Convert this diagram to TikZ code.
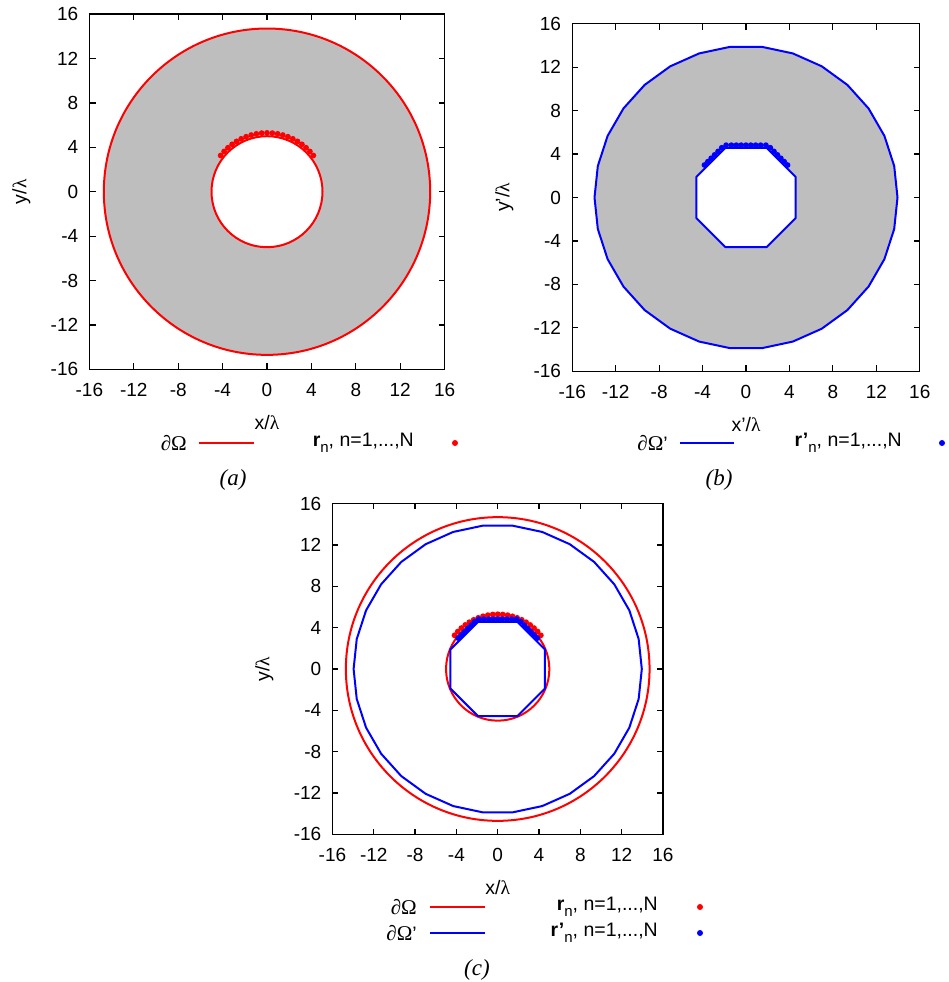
\documentclass[tikz,border=0pt]{standalone}
\usepackage{fontspec}
\setmainfont{Liberation Sans}
\newfontfamily\serifit{Liberation Serif}
\usetikzlibrary{positioning}
\definecolor{plotgray}{RGB}{190,190,190}
\definecolor{plotred}{RGB}{255,0,0}
\definecolor{plotblue}{RGB}{0,0,255}
\newcommand\lam{{\serifit λ}}
\newcommand\bnd{{\serifit\fontsize{21}{21}\selectfont ∂Ω}}
\newcommand\subn{\raisebox{-5.5pt}{\fontsize{15}{15}\selectfont n}}
% frame, ticks and tick labels of one panel (data units)
\newcommand\axesbox[3]{%
  \draw[frame] (-16,-16) rectangle (16,16);
  \foreach \v in {-12,-8,...,12} {
    \draw[frame] (\v,-16) -- ++(0,0.55) (\v,16) -- ++(0,-0.55)
                 (-16,\v) -- ++(0.55,0) (16,\v) -- ++(-0.55,0);
  }
  \foreach \v [count=\i] in {-16,-12,...,16} {
    \node[ticklab, anchor=east, xshift=-11pt] (#3y\i) at (-16,\v) {\v};
    \node[ticklab, yshift=-21pt] (#3x\i) at (\v,-16) {\v};
  }
  \node[axlab] (#3xl) at ([yshift=-53pt]0,-16) {#1};
  \node[axlab, rotate=90] (#3yl) at ([xshift=-68pt]-16,0) {#2};
}
% rings and sampling points
\newcommand\outerpoly{(0:13.95) \foreach \k in {1,...,29} {-- (\k*12:13.95)} -- cycle}
\newcommand\innerpoly{(22.5:4.95) \foreach \k in {1,...,7} {-- (22.5+\k*45:4.95)} -- cycle}
\newcommand\reddots{\foreach \i in {0,...,20} {
    \pgfmathsetmacro\t{38+5.2*\i}
    \fill[plotred] (\t:5.3) circle (2.9pt);}}
\newcommand\bluedots{\foreach \i in {0,...,20} {
    \pgfmathsetmacro\t{38+5.2*\i}
    \pgfmathsetmacro\nrm{45*round(\t/45)}
    \pgfmathsetmacro\d{4.82/cos(\t-\nrm)}
    \fill[plotblue] (\t:\d) circle (2.9pt);}}

\begin{document}
\begin{tikzpicture}[x=1pt, y=-1pt,
    frame/.style={draw=black, line width=1.2pt},
    ticklab/.style={font=\fontsize{19}{19}\selectfont, inner sep=0pt},
    axlab/.style={font=\fontsize{19.5}{19.5}\selectfont, inner sep=0pt},
    keytext/.style={font=\fontsize{19.5}{19.5}\selectfont, inner sep=0pt, anchor=east},
    redline/.style={draw=plotred, line width=2pt},
    blueline/.style={draw=plotblue, line width=2pt},
    caption/.style={font=\fontsize{23}{23}\selectfont\serifit\itshape, inner sep=0pt},
    dotmark/.style={circle, inner sep=0pt, minimum size=6pt},
  ]
  \useasboundingbox (0,0) rectangle (948,982);

  % (a) original domain
  \begin{scope}[shift={(267,191.7)}, x=11.1pt, y=11.1pt]
    \fill[plotgray, even odd rule] (0,0) circle (14.7) (0,0) circle (5);
    \draw[redline] (0,0) circle (14.7) (0,0) circle (5);
    \reddots
    \axesbox{x/\lam}{y/\lam}{a}
  \end{scope}
  \node[keytext] (akey1) at (187,443) {\bnd};
  \coordinate (akeys) at (199,443);
  \coordinate (akeye) at (254,443);
  \draw[redline] (akeys) -- (akeye);
  \node[keytext] (akey2) at (414,443) {\textbf{r}\subn, n=1,...,N};
  \node[dotmark, fill=plotred] (adot) at (455,443) {};
  \node[caption] (capa) at (233,480) {(a)};

  % (b) transformed domain
  \begin{scope}[shift={(746,197.5)}, x=10.86pt, y=10.86pt]
    \fill[plotgray, even odd rule] \outerpoly \innerpoly;
    \draw[blueline, line join=round] \outerpoly \innerpoly;
    \bluedots
    \axesbox{x’/\lam}{y’/\lam}{b}
  \end{scope}
  \node[keytext] (bkey1) at (668,443) {\bnd’};
  \coordinate (bkeys) at (680,443);
  \coordinate (bkeye) at (734,443);
  \draw[blueline] (bkeys) -- (bkeye);
  \node[keytext] (bkey2) at (902,443) {\textbf{r’}\subn, n=1,...,N};
  \node[dotmark, fill=plotblue] (bdot) at (942,443) {};
  \node[caption] (capb) at (719,480) {(b)};

  % (c) both boundaries
  \begin{scope}[shift={(497.7,669)}, x=10.33pt, y=10.33pt]
    \draw[redline] (0,0) circle (14.7) (0,0) circle (5);
    \draw[blueline, line join=round] \outerpoly \innerpoly;
    \reddots
    \bluedots
    \axesbox{x/\lam}{y/\lam}{c}
  \end{scope}
  \node[keytext] (ckey1) at (417,907) {\bnd};
  \coordinate (ckey1s) at (430,907);
  \coordinate (ckey1e) at (485,907);
  \draw[redline] (ckey1s) -- (ckey1e);
  \node[keytext] (ckey2) at (417,933) {\bnd’};
  \coordinate (ckey2s) at (430,933);
  \coordinate (ckey2e) at (485,933);
  \draw[blueline] (ckey2s) -- (ckey2e);
  \node[keytext] (ckey3) at (658,907) {\textbf{r}\subn, n=1,...,N};
  \node[keytext] (ckey4) at (658,933) {\textbf{r’}\subn, n=1,...,N};
  \node[dotmark, fill=plotred] (cdot1) at (700,907) {};
  \node[dotmark, fill=plotblue] (cdot2) at (700,933) {};
  \node[caption] (capc) at (477,970) {(c)};
\end{tikzpicture}
\end{document}
